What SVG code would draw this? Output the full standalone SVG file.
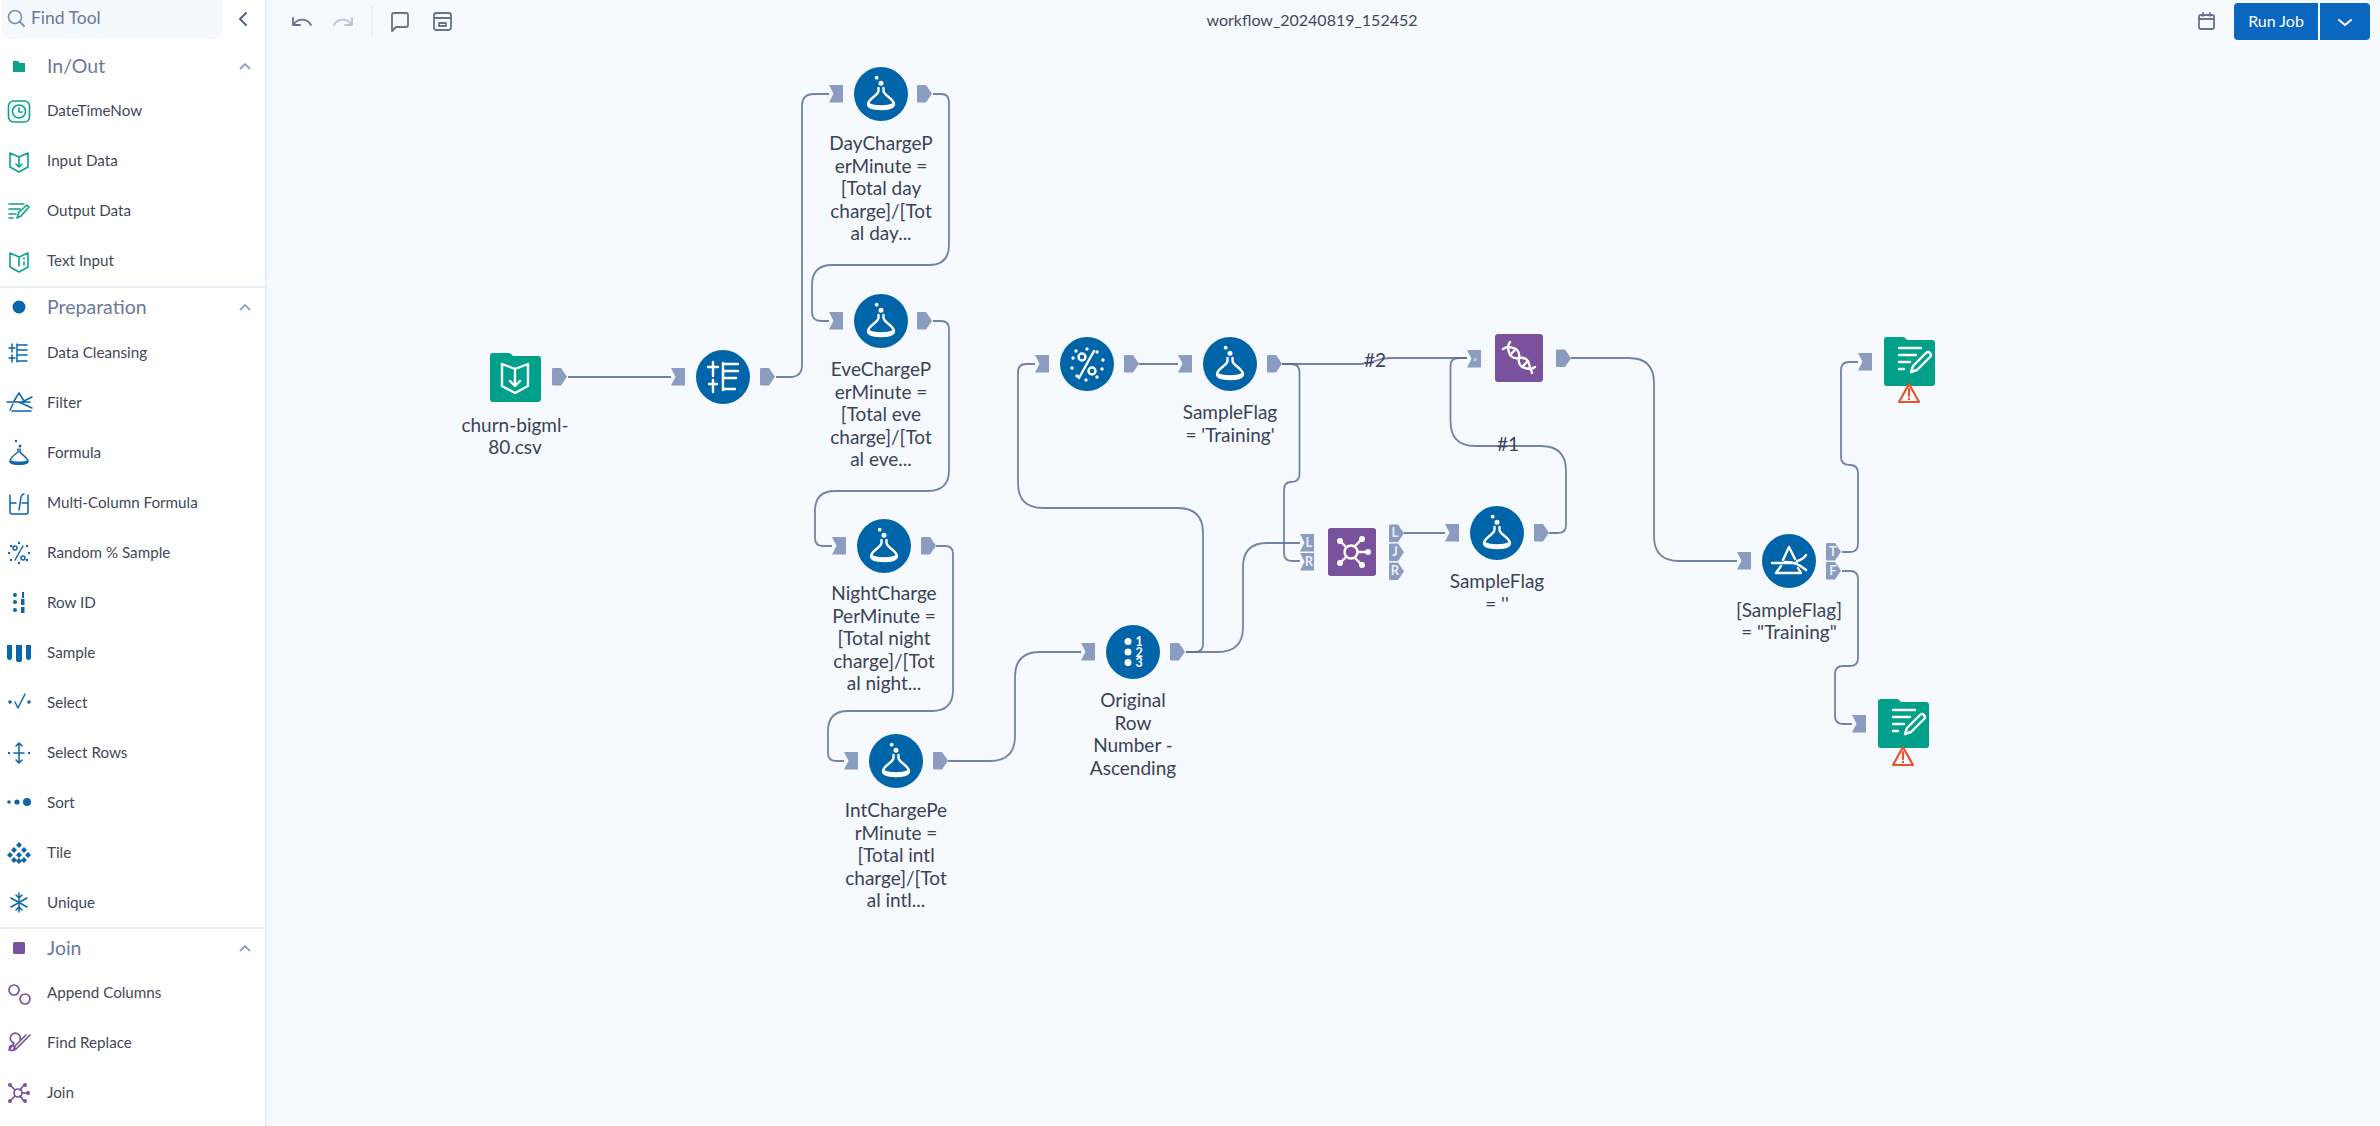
<svg xmlns="http://www.w3.org/2000/svg" xmlns:xlink="http://www.w3.org/1999/xlink" width="2380" height="1126" viewBox="0 0 2380 1126">
<style>
text{font-family:"Lato","Liberation Sans",sans-serif}
.lbl{font-size:19px;fill:#3a4356;text-anchor:middle}
.item{font-size:15.200px;fill:#3f4859}
.sec{font-size:19.500px;fill:#6b7a9a}
.conn{fill:none;stroke:#5c6e95;stroke-width:1.8;stroke-opacity:.85}
.port{fill:#8a9cbf}
.pt{font-size:13px;fill:#e9eef7;text-anchor:middle;font-weight:700}
.wg{fill:none;stroke:#fff;stroke-width:2.4;stroke-linecap:round;stroke-linejoin:round}
.wf{fill:#fff}
.bi{fill:none;stroke:#0a66ab;stroke-width:1.5;stroke-linecap:round;stroke-linejoin:round}
.bf{fill:#0a66ab}
.ti{fill:none;stroke:#0ba38d;stroke-width:1.6;stroke-linecap:round;stroke-linejoin:round}
.pi{fill:none;stroke:#7a519c;stroke-width:1.7;stroke-linecap:round;stroke-linejoin:round}
.tb{fill:none;stroke:#66728e;stroke-width:1.8;stroke-linecap:round;stroke-linejoin:round}
</style>
<defs>
<path id="pin" class="port" d="M0 0H14V17.500H0L4.500 8.750Z"/>
<path id="pout" class="port" d="M1 0H9L15 8.750L9 17.500H1Q0 17.500 0 16.500V1Q0 0 1 0Z"/>
<circle id="disc" r="27" fill="#0065a8"/>
<path id="folder" fill="#00a08a" d="M3 0H19Q21 0 23 3H48Q51 3 51 6V46Q51 49 48 49H3Q0 49 0 46V3Q0 0 3 0Z"/>
<g id="flask">
<circle class="wf" cx="-4.300" cy="-16.300" r="1.900"/>
<circle class="wf" cx="0" cy="-10.700" r="2.500"/>
<path class="wg" d="M-2.500 -6V-3C-2.500 1 -13 5 -13 10C-13 14 -6 15 0 15C6 15 13 14 13 10C13 5 2.500 1 2.500 -3V-6"/>
<path class="wf" d="M-12 9C-6 12 6 12 12 9C13 14 6 15.500 0 15.500C-6 15.500 -13 14 -12 9Z"/>
</g>
<g id="pen">
<path class="wg" d="M11 12H33M11 19H28M11 26H22M11 33H16"/>
<path class="wg" d="M23 36L25 30L38 17Q40 15 42 17Q44 19 42 21L29 34Z"/>
</g>
<g id="warn">
<path d="M0 -18L-10 0H10Z" transform="translate(0 18)" fill="#fff" stroke="#e8532b" stroke-width="2.200" stroke-linejoin="round"/>
<path d="M0 5V12" stroke="#e8532b" stroke-width="2.200" stroke-linecap="round"/>
<circle cx="0" cy="15" r="1.200" fill="#e8532b"/>
</g>
</defs>
<rect id="canvas" width="2380" height="1126" fill="#f6f9fe"/>

<g id="sidebar">
<rect width="265" height="1126" fill="#fff"/>
<rect x="265" width="2" height="1126" fill="#e9eef6"/>
<rect x="2" y="-8" width="220" height="47" rx="8" fill="#f5f8fd"/>
<circle cx="15" cy="17" r="6.500" fill="none" stroke="#7d8fb0" stroke-width="1.600"/>
<path d="M20 22L24 26" stroke="#7d8fb0" stroke-width="1.800" stroke-linecap="round"/>
<text x="31" y="24" font-size="17.500" fill="#6b7a9a">Find Tool</text>
<path d="M246 13L240 19L246 25" fill="none" stroke="#55617c" stroke-width="2" stroke-linecap="round" stroke-linejoin="round"/>

<path d="M13 61H18L20 63H25V72H13Z" fill="#0ba38d"/>
<text class="sec" x="47" y="73">In/Out</text>
<path d="M240 69L245 64L250 69" fill="none" stroke="#8fa2c4" stroke-width="1.800"/>
<text class="item" x="47" y="116">DateTimeNow</text>
<rect x="8.500" y="101" width="21" height="21" rx="5" class="ti"/><circle cx="19" cy="111.500" r="6.500" class="ti"/><path class="ti" d="M19 108V112H22"/>
<text class="item" x="47" y="166">Input Data</text>
<path class="ti" d="M10 153L19 157L28 153V167L19 172L10 167ZM19 157V166M16 164L19 167L22 164"/>
<text class="item" x="47" y="216">Output Data</text>
<path class="ti" d="M9 204H24M9 209H20M9 214H16M9 218H13M17 218L19 212L27 205L29 207L21 216Z"/>
<text class="item" x="47" y="266">Text Input</text>
<path class="ti" d="M10 253L19 257L28 253V267L19 272L10 267ZM19 257V266M24 258V259M24 262V265"/>
<rect y="286" width="265" height="2" fill="#e9eef6"/>

<circle cx="19" cy="307" r="6.500" class="bf"/>
<text class="sec" x="47" y="314">Preparation</text>
<path d="M240 310L245 305L250 310" fill="none" stroke="#8fa2c4" stroke-width="1.800"/>
<text class="item" x="47" y="358">Data Cleansing</text>
<path class="bi" d="M12 344V352M9 348H15M12 355V362M9 358H15M17 344V362M17 345H27M17 350H27M17 355H27M17 361H27"/>
<text class="item" x="47" y="408">Filter</text>
<path class="bi" d="M7 402H30M19 393L24 401M19 393L14 401M12 411H31M10 410L13 404M18 402C23 403 27 406 32 408M22 402L32 397"/>
<text class="item" x="47" y="458">Formula</text>
<circle cx="16" cy="441" r="1.200" class="bf"/><circle cx="20" cy="446" r="1.500" class="bf"/>
<path class="bi" d="M18 449V452C14 455 10 458 10 461C10 464 14 464 19 464C24 464 28 464 28 461C28 458 22 455 20 452V449"/>
<path class="bf" d="M10 460C14 462 24 462 28 460C29 464 24 465 19 465C14 465 9 464 10 460Z"/>
<text class="item" x="47" y="508">Multi-Column Formula</text>
<path class="bi" d="M10 495V512Q10 514 12 514H26Q28 514 28 512V495M10 503H16M22 503H28M19 510L21 497Q22 494 24 494"/>
<text class="item" x="47" y="558">Random % Sample</text>
<path class="bi" d="M15 560L23 546"/><circle cx="15" cy="548" r="2" class="bi"/><circle cx="23" cy="558" r="2" class="bi"/>
<g class="bf"><circle cx="19" cy="543" r="1.200"/><circle cx="27" cy="546" r="1.200"/><circle cx="29" cy="553" r="1.200"/><circle cx="27" cy="560" r="1.200"/><circle cx="19" cy="563" r="1.200"/><circle cx="11" cy="560" r="1.200"/><circle cx="9" cy="553" r="1.200"/><circle cx="11" cy="546" r="1.200"/></g>
<text class="item" x="47" y="608">Row ID</text>
<g class="bf"><circle cx="15" cy="595" r="2"/><circle cx="15" cy="602" r="2"/><circle cx="15" cy="610" r="2"/><rect x="22" y="592" width="2" height="6"/><rect x="21" y="599" width="3.500" height="6"/><rect x="21" y="607" width="3.500" height="6"/></g>
<text class="item" x="47" y="658">Sample</text>
<path class="bf" d="M7 645H12V657Q12 660 9.500 660Q7 660 7 657ZM16 645H22V660Q22 662 19 662Q16 662 16 660ZM26 645H31V657Q31 660 28.500 660Q26 660 26 657Z"/>
<text class="item" x="47" y="708">Select</text>
<circle cx="10" cy="702" r="1.800" class="bf"/><circle cx="29" cy="702" r="1.800" class="bf"/><path class="bi" d="M15 702L18 708L25 694"/>
<text class="item" x="47" y="758">Select Rows</text>
<path class="bi" d="M19 743V763M14 753H24M19 743L16 746M19 743L22 746M16 760L19 763L22 760"/><circle cx="9" cy="753" r="1.200" class="bf"/><circle cx="29" cy="753" r="1.200" class="bf"/>
<text class="item" x="47" y="808">Sort</text>
<circle cx="9" cy="802" r="1.800" class="bf"/><circle cx="17" cy="802" r="2.600" class="bf"/><circle cx="27" cy="802" r="4" class="bf"/>
<text class="item" x="47" y="858">Tile</text>
<g class="bf"><path d="M19 842L22 845L19 848L16 845ZM19 858L22 861L19 864L16 861ZM10 852L13 855L10 858L7 855ZM28 852L31 855L28 858L25 855ZM14 847L17 850L14 853L11 850ZM24 847L27 850L24 853L21 850ZM14 857L17 860L14 863L11 860ZM24 857L27 860L24 863L21 860ZM19 852L22 855L19 858L16 855Z"/></g>
<text class="item" x="47" y="908">Unique</text>
<path class="bi" stroke-width="2" d="M19 893V912M11 898L27 907M27 898L11 907M16 895L19 898L22 895M16 910L19 907L22 910"/>
<rect y="927" width="265" height="2" fill="#e9eef6"/>

<rect x="13" y="942" width="12" height="12" rx="1.500" fill="#7a519c"/>
<text class="sec" x="47" y="955">Join</text>
<path d="M240 951L245 946L250 951" fill="none" stroke="#8fa2c4" stroke-width="1.800"/>
<text class="item" x="47" y="998">Append Columns</text>
<circle cx="14" cy="990" r="5" class="pi"/><circle cx="25" cy="999" r="5" class="pi"/>
<text class="item" x="47" y="1048">Find Replace</text>
<path class="pi" d="M9 1050L14 1043M14 1043A5 5 0 1 1 20 1040M16 1049L28 1037L30 1035M16 1049L14 1050L15 1046L26 1035"/>
<circle cx="12" cy="1048" r="2.500" class="pi"/>
<text class="item" x="47" y="1098">Join</text>
<circle cx="18" cy="1093" r="4" class="pi"/><path class="pi" d="M10 1085L15 1090M10 1101L15 1096M22 1093H28M20 1090L24 1085M20 1096L24 1101"/>
<g fill="#7a519c"><circle cx="10" cy="1085" r="2"/><circle cx="10" cy="1101" r="2"/><circle cx="28" cy="1093" r="2"/><circle cx="25" cy="1085" r="2"/><circle cx="25" cy="1101" r="2"/></g>
</g>

<g id="toolbar">
<path class="tb" d="M293 18V25H300M294 24C298 18 307 18 311 25" stroke-width="2"/>
<path class="tb" style="stroke:#b9c3d6" d="M352 18V25H345M351 24C347 18 338 18 334 25"/>
<rect x="371.500" y="6" width="1" height="31" fill="#dfe5ef"/>
<path class="tb" d="M392 15Q392 13 394 13H406Q408 13 408 15V25Q408 27 406 27H396L392 31Z"/>
<rect x="434" y="13" width="17" height="17" rx="2.500" class="tb"/><path class="tb" d="M434 18H451M439 23H446V26H439Z"/>
<text x="1312" y="26" font-size="16" fill="#3f4859" text-anchor="middle">workflow_20240819_152452</text>
<rect x="2199" y="15" width="15" height="14" rx="2" class="tb"/><path class="tb" d="M2199 19H2214M2203 13V16M2210 13V16"/>
<path d="M2238 3H2318V40H2238Q2234 40 2234 36V7Q2234 3 2238 3Z" fill="#0a66bf"/>
<path d="M2320 3H2366Q2370 3 2370 7V36Q2370 40 2366 40H2320Z" fill="#0a66bf"/>
<text x="2276" y="27" font-size="16" fill="#fff" text-anchor="middle">Run Job</text>
<path d="M2339 20L2345 25L2351 20" fill="none" stroke="#fff" stroke-width="2" stroke-linecap="round" stroke-linejoin="round"/>
</g>

<g id="connectors">
<path class="conn" d="M568 377H671"/>
<path class="conn" d="M776 377H790Q802 377 802 365V106Q802 94 814 94H829"/>
<path class="conn" d="M933 94H941Q949 94 949 102V245Q949 265 929 265H832Q812 265 812 285V312Q812 321 821 321H829"/>
<path class="conn" d="M933 321H941Q949 321 949 329V470Q949 491 928 491H835Q815 491 815 511V538Q815 546 823 546H832"/>
<path class="conn" d="M936 546H945Q953 546 953 554V690Q953 711 932 711H848Q828 711 828 731V753Q828 761 836 761H844"/>
<path class="conn" d="M948 761H990Q1015 761 1015 736V677Q1015 652 1040 652H1081"/>
<path class="conn" d="M1186 652H1195Q1203 652 1203 644V533Q1203 508 1178 508H1043Q1018 508 1018 483V372Q1018 364 1026 364H1035"/>
<path class="conn" d="M1186 652H1218Q1243 652 1243 627V567Q1243 543 1267 543H1300"/>
<path class="conn" d="M1139 364H1178"/>
<path class="conn" d="M1282 364H1360C1375 364 1375 358 1390 358H1467"/>
<path class="conn" d="M1282 364H1291Q1299.500 364 1299.500 372V474Q1299.500 482 1291 482Q1284 482 1284 490V553Q1284 561 1292 561H1300"/>
<path class="conn" d="M1404 533H1445"/>
<path class="conn" d="M1549 533H1558Q1566 533 1566 525V471Q1566 446 1541 446H1475Q1450.500 446 1450.500 421V366Q1450.500 358 1458 358H1467"/>
<path class="conn" d="M1571 358H1629Q1654 358 1654 383V536Q1654 561 1679 561H1737"/>
<path class="conn" d="M1842 552H1850Q1858 552 1858 544V473Q1858 465 1850 465Q1841 465 1841 457V370Q1841 362 1849 362H1858"/>
<path class="conn" d="M1842 571H1850Q1858 571 1858 579V658Q1858 666 1850 666H1843Q1835 666 1835 674V716Q1835 724 1843 724H1852"/>
<text x="1375" y="367" font-size="19" fill="#3a4356" text-anchor="middle">#2</text>
<text x="1508" y="451" font-size="19" fill="#3a4356" text-anchor="middle">#1</text>
</g>

<g id="node-input">
<use href="#folder" x="490" y="353"/>
<path class="wg" d="M502 364L515 369L528 364V386L515 393L502 386ZM515 369V386M510 381L515 386L520 381"/>
<use href="#pout" x="552" y="368"/>
<text class="lbl"><tspan x="515" y="432">churn-bigml-</tspan><tspan x="515" y="454">80.csv</tspan></text>
</g>
<g id="node-cleansing">
<use href="#disc" x="723" y="377"/>
<path class="wg" d="M713 362V376M708 367H718M713 380V392M709 384H717M723 363V390M723 364H738M723 371H738M723 378H736M723 389H735" stroke-width="2"/>
<use href="#pin" x="671" y="368"/>
<use href="#pout" x="760" y="368"/>
</g>
<g id="node-day">
<use href="#disc" x="881" y="94"/><use href="#flask" x="881" y="94"/>
<use href="#pin" x="829" y="85"/><use href="#pout" x="917" y="85"/>
<text class="lbl"><tspan x="881" y="150">DayChargeP</tspan><tspan x="881" y="172.500">erMinute =</tspan><tspan x="881" y="195">[Total day</tspan><tspan x="881" y="217.500">charge]/[Tot</tspan><tspan x="881" y="240">al day...</tspan></text>
</g>
<g id="node-eve">
<use href="#disc" x="881" y="321"/><use href="#flask" x="881" y="321"/>
<use href="#pin" x="829" y="312"/><use href="#pout" x="917" y="312"/>
<text class="lbl"><tspan x="881" y="376">EveChargeP</tspan><tspan x="881" y="398.500">erMinute =</tspan><tspan x="881" y="421">[Total eve</tspan><tspan x="881" y="443.500">charge]/[Tot</tspan><tspan x="881" y="466">al eve...</tspan></text>
</g>
<g id="node-night">
<use href="#disc" x="884" y="546"/><use href="#flask" x="884" y="546"/>
<use href="#pin" x="832" y="537"/><use href="#pout" x="921" y="537"/>
<text class="lbl"><tspan x="884" y="600">NightCharge</tspan><tspan x="884" y="622.500">PerMinute =</tspan><tspan x="884" y="645">[Total night</tspan><tspan x="884" y="667.500">charge]/[Tot</tspan><tspan x="884" y="690">al night...</tspan></text>
</g>
<g id="node-int">
<use href="#disc" x="896" y="761"/><use href="#flask" x="896" y="761"/>
<use href="#pin" x="844" y="752"/><use href="#pout" x="933" y="752"/>
<text class="lbl"><tspan x="896" y="817">IntChargePe</tspan><tspan x="896" y="839.500">rMinute =</tspan><tspan x="896" y="862">[Total intl</tspan><tspan x="896" y="884.500">charge]/[Tot</tspan><tspan x="896" y="907">al intl...</tspan></text>
</g>
<g id="node-rowid">
<use href="#disc" x="1133" y="652"/>
<circle class="wf" cx="1128" cy="641.500" r="3.500"/><circle class="wf" cx="1128" cy="652" r="3.500"/><circle class="wf" cx="1128" cy="662.500" r="3.500"/>
<text x="1139" y="646" font-size="12.500" font-weight="700" fill="#fff" text-anchor="middle">1</text>
<text x="1139" y="656.500" font-size="12.500" font-weight="700" fill="#fff" text-anchor="middle">2</text>
<text x="1139" y="667" font-size="12.500" font-weight="700" fill="#fff" text-anchor="middle">3</text>
<use href="#pin" x="1081" y="643"/><use href="#pout" x="1170" y="643"/>
<text class="lbl"><tspan x="1133" y="707">Original</tspan><tspan x="1133" y="729.500">Row</tspan><tspan x="1133" y="752">Number -</tspan><tspan x="1133" y="774.500">Ascending</tspan></text>
</g>
<g id="node-random">
<use href="#disc" x="1087" y="364"/>
<path class="wg" d="M1079 378L1094 351"/>
<circle cx="1082" cy="357" r="3.500" class="wg" stroke-width="2"/><circle cx="1092" cy="371" r="3.500" class="wg" stroke-width="2"/>
<g class="wf"><circle cx="1087" cy="349" r="1.700"/><circle cx="1097" cy="352" r="1.700"/><circle cx="1103" cy="360" r="1.700"/><circle cx="1102" cy="369" r="1.700"/><circle cx="1097" cy="377" r="1.700"/><circle cx="1086" cy="380" r="1.700"/><circle cx="1077" cy="376" r="1.700"/><circle cx="1072" cy="368" r="1.700"/><circle cx="1073" cy="358" r="1.700"/><circle cx="1076" cy="351" r="1.700"/></g>
<use href="#pin" x="1035" y="355"/><use href="#pout" x="1124" y="355"/>
</g>
<g id="node-flag-training">
<use href="#disc" x="1230" y="364"/><use href="#flask" x="1230" y="364"/>
<use href="#pin" x="1178" y="355"/><use href="#pout" x="1267" y="355"/>
<text class="lbl"><tspan x="1230" y="419">SampleFlag</tspan><tspan x="1230" y="441.500">= 'Training'</tspan></text>
</g>
<g id="node-union">
<rect x="1495" y="334" width="48" height="48" rx="3" fill="#7a519c"/>
<g transform="translate(1519 358)">
<path class="wg" stroke-width="2.200" d="M-16 -9Q-13 -11 -11 -11Q2 -10 0 0Q-2 10 11 11Q13 13 13 15"/>
<path class="wg" stroke-width="2.200" d="M-9 -16Q-11 -13 -11 -11Q-10 2 0 0Q10 -2 11 11Q13 11 16 9"/>
<path class="wg" stroke-width="1.500" d="M-9 -3L-3 -9M3 9L9 3"/>
</g>
<use href="#pin" x="1467" y="350"/><text x="1475" y="362" font-size="10" fill="#e9eef7" text-anchor="middle">»</text>
<use href="#pout" x="1556" y="349.500"/>
</g>
<g id="node-join">
<rect x="1328" y="528" width="48" height="48" rx="3" fill="#7a519c"/>
<circle cx="1351" cy="552" r="6.500" class="wg"/>
<path class="wg" d="M1340 541L1346 547M1340 563L1346 557M1358 552H1368M1355 546L1362 539M1355 558L1362 565"/>
<g class="wf"><circle cx="1340" cy="541" r="3"/><circle cx="1340" cy="563" r="3"/><circle cx="1368" cy="552" r="3"/><circle cx="1362" cy="539" r="3"/><circle cx="1362" cy="565" r="3"/></g>
<use href="#pin" x="1300" y="534"/><text class="pt" x="1309" y="547">L</text>
<use href="#pin" x="1300" y="553"/><text class="pt" x="1309" y="566">R</text>
<use href="#pout" x="1389" y="524.500"/><text class="pt" x="1395" y="537">L</text>
<use href="#pout" x="1389" y="543.500"/><text class="pt" x="1395" y="556">J</text>
<use href="#pout" x="1389" y="562.500"/><text class="pt" x="1395" y="575">R</text>
</g>
<g id="node-flag-empty">
<use href="#disc" x="1497" y="533"/><use href="#flask" x="1497" y="533"/>
<use href="#pin" x="1445" y="524"/><use href="#pout" x="1534" y="524"/>
<text class="lbl"><tspan x="1497" y="588">SampleFlag</tspan><tspan x="1497" y="610.500">= ''</tspan></text>
</g>
<g id="node-filter">
<use href="#disc" x="1789" y="561"/>
<path class="wg" stroke-width="2.200" d="M1772 563H1797M1789 547L1783 560M1789 547L1795 559M1781 566L1776 573H1801L1798 568M1785 562C1795 562 1800 565 1806 570M1797 561C1801 560 1804 558 1806 555"/>
<use href="#pin" x="1737" y="552"/>
<use href="#pout" x="1826" y="543"/><text class="pt" x="1833" y="556">T</text>
<use href="#pout" x="1826" y="562"/><text class="pt" x="1833" y="575">F</text>
<text class="lbl"><tspan x="1789" y="617">[SampleFlag]</tspan><tspan x="1789" y="639">= "Training"</tspan></text>
</g>
<g id="node-output-1">
<use href="#folder" x="1884" y="337"/><use href="#pen" x="1888" y="336"/>
<use href="#warn" x="1909" y="384"/>
<use href="#pin" x="1858" y="353"/>
</g>
<g id="node-output-2">
<use href="#folder" x="1878" y="699"/><use href="#pen" x="1882" y="698"/>
<use href="#warn" x="1903" y="747"/>
<use href="#pin" x="1852" y="715"/>
</g>
</svg>
